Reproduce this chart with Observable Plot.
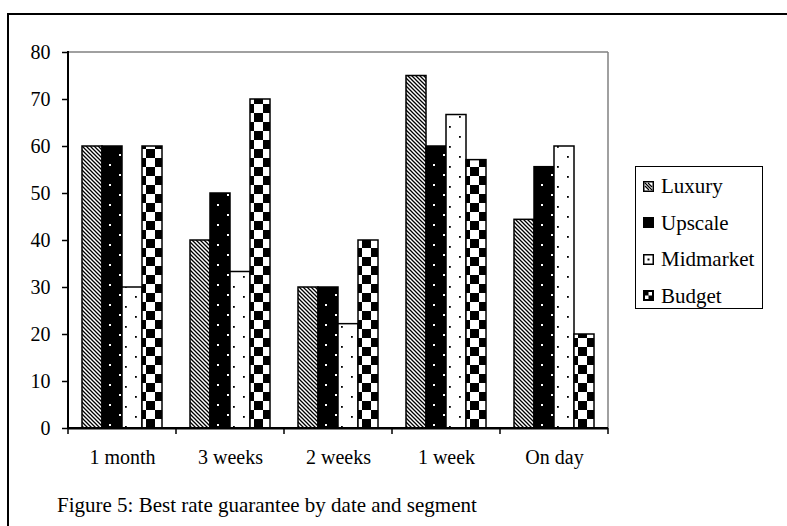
<!DOCTYPE html>
<html>
<head>
<meta charset="utf-8">
<script src="https://cdn.jsdelivr.net/npm/d3@7"></script>
<script src="https://cdn.jsdelivr.net/npm/@observablehq/plot@0.6"></script>
<style>
  html, body { margin: 0; padding: 0; background: #fff; }
  body { width: 787px; height: 526px; position: relative; overflow: hidden; font-family: "Liberation Serif", "Times New Roman", serif; }
  #frame { position: absolute; left: 7px; top: 13px; width: 800px; height: 540px; border-top: 2px solid #000; border-left: 2px solid #000; box-sizing: border-box; }
  #chart { position: absolute; left: 0; top: 0; }
  #legend { position: absolute; left: 635px; top: 166px; width: 128px; height: 143px; border: 1px solid #000; box-sizing: border-box; background: #fff; padding-top: 1px; }
  #legend .row { height: 36.5px; display: flex; align-items: center; font-size: 21px; line-height: 24px; color: #000; }
  #legend svg { margin-left: 7px; margin-right: 7px; flex: none; }
  #caption { position: absolute; left: 57px; top: 493px; font-size: 21px; line-height: 24px; color: #000; white-space: nowrap; }
</style>
</head>
<body>
<div id="frame"></div>
<div id="chart"></div>
<div id="legend"></div>
<div id="caption">Figure 5: Best rate guarantee by date and segment</div>
<script>
const dates = ["1 month", "3 weeks", "2 weeks", "1 week", "On day"];
const segments = ["Luxury", "Upscale", "Midmarket", "Budget"];
const luxury = [60, 40, 30, 75, 44.4];
const upscale = [60, 50, 30, 60, 55.6];
const midmarket = [30, 33.3, 22.2, 66.7, 60];
const budget = [60, 70, 40, 57.1, 20];
const yTicks = [0, 10, 20, 30, 40, 50, 60, 70, 80];
const patternIds = ["pLux", "pUp", "pMid", "pBud"];

(function () {
const seriesValues = [luxury, upscale, midmarket, budget];
const data = [];
dates.forEach((d, i) => segments.forEach((s, j) => data.push({date: d, segment: s, value: seriesValues[j][i]})));

const serif = "'Liberation Serif', 'Times New Roman', serif";

const plot = Plot.plot({
  width: 787,
  height: 470,
  marginLeft: 68,
  marginRight: 179,
  marginTop: 52,
  marginBottom: 42,
  style: {fontFamily: serif, fontSize: "20px", color: "#000", background: "transparent", overflow: "visible"},
  fx: {domain: dates, padding: 0, label: null, axis: null},
  x: {domain: segments, paddingInner: 0, paddingOuter: 0.7, axis: null},
  y: {domain: [0, 80], label: null, axis: null},
  color: {domain: segments, range: patternIds.map(id => `url(#${id})`)},
  marks: [
    Plot.barY(data, {fx: "date", x: "segment", y: "value", fill: "segment", stroke: "#000", strokeWidth: 1.5}),
    Plot.ruleY([0], {stroke: "#000", strokeWidth: 2}),
    Plot.axisY({ticks: yTicks, tickSize: 6, tickPadding: 12, label: null, fontSize: 20, stroke: "#000", strokeWidth: 1.5}),
    Plot.axisFx({anchor: "bottom", tickSize: 0, tickPadding: 21, label: null, fontSize: 20})
  ]
});
document.getElementById("chart").appendChild(plot);

const svg = d3.select(plot);
const defs = svg.insert("defs", ":first-child");
const pl = defs.append("pattern").attr("id", "pLux").attr("patternUnits", "userSpaceOnUse").attr("width", 4).attr("height", 4);
pl.append("rect").attr("width", 4).attr("height", 4).attr("fill", "#fff");
pl.append("path").attr("d", "M-1,-1L5,5M-1,3L1,5M3,-1L5,1").attr("stroke", "#000").attr("stroke-width", 1.3);
const pu = defs.append("pattern").attr("id", "pUp").attr("patternUnits", "userSpaceOnUse").attr("width", 20).attr("height", 20);
pu.append("rect").attr("width", 20).attr("height", 20).attr("fill", "#000");
pu.append("rect").attr("x", 9).attr("y", 4).attr("width", 2).attr("height", 2).attr("fill", "#fff");
pu.append("rect").attr("x", 19).attr("y", 14).attr("width", 2).attr("height", 2).attr("fill", "#fff");
pu.append("rect").attr("x", -1).attr("y", 14).attr("width", 2).attr("height", 2).attr("fill", "#fff");
const pm = defs.append("pattern").attr("id", "pMid").attr("patternUnits", "userSpaceOnUse").attr("width", 20).attr("height", 20);
pm.append("rect").attr("width", 20).attr("height", 20).attr("fill", "#fff");
pm.append("rect").attr("x", 5).attr("y", 6).attr("width", 1.8).attr("height", 1.8).attr("fill", "#000");
pm.append("rect").attr("x", 15).attr("y", 16).attr("width", 1.8).attr("height", 1.8).attr("fill", "#000");
const pb = defs.append("pattern").attr("id", "pBud").attr("patternUnits", "userSpaceOnUse").attr("width", 18).attr("height", 18).attr("x", 2).attr("y", 5);
pb.append("rect").attr("width", 18).attr("height", 18).attr("fill", "#fff");
pb.append("rect").attr("width", 9).attr("height", 9).attr("fill", "#000");
pb.append("rect").attr("x", 9).attr("y", 9).attr("width", 9).attr("height", 9).attr("fill", "#000");

const fx = plot.scale("fx");
const ys = plot.scale("y");
const x0 = fx.apply(dates[0]);
const x1 = fx.apply(dates[dates.length - 1]) + fx.bandwidth;
const yTop = ys.apply(80), yBottom = ys.apply(0);
const deco = svg.append("g");
deco.append("line").attr("x1", x0).attr("x2", x1).attr("y1", yTop).attr("y2", yTop).attr("stroke", "#808080").attr("stroke-width", 1.5);
deco.append("line").attr("x1", x1).attr("x2", x1).attr("y1", yTop).attr("y2", yBottom).attr("stroke", "#808080").attr("stroke-width", 1.5);
deco.append("line").attr("x1", x0).attr("x2", x0).attr("y1", yTop - 1).attr("y2", yBottom + 1).attr("stroke", "#000").attr("stroke-width", 2);
deco.append("line").attr("x1", x0).attr("x2", x1).attr("y1", yBottom).attr("y2", yBottom).attr("stroke", "#000").attr("stroke-width", 2);
const bounds = dates.map(d => fx.apply(d)).concat([x1]);
deco.selectAll(".bt").data(bounds).join("line").attr("x1", d => d).attr("x2", d => d).attr("y1", yBottom).attr("y2", yBottom + 6).attr("stroke", "#000").attr("stroke-width", 1.5);

const legend = d3.select("#legend");
segments.forEach((s, j) => {
  const row = legend.append("div").attr("class", "row");
  const sw = row.append("svg").attr("width", 11).attr("height", 11);
  if (j === 0) {
    sw.append("rect").attr("x", 0.75).attr("y", 0.75).attr("width", 9.5).attr("height", 9.5).attr("fill", "#fff").attr("stroke", "#000").attr("stroke-width", 1.5);
    sw.append("path").attr("d", "M2,2L9,9M2,5L6,9M5,2L9,6").attr("stroke", "#000").attr("stroke-width", 1.2);
  } else if (j === 1) {
    sw.append("rect").attr("x", 0.75).attr("y", 0.75).attr("width", 9.5).attr("height", 9.5).attr("fill", "#000").attr("stroke", "#000").attr("stroke-width", 1.5);
  } else if (j === 2) {
    sw.append("rect").attr("x", 0.75).attr("y", 0.75).attr("width", 9.5).attr("height", 9.5).attr("fill", "#fff").attr("stroke", "#000").attr("stroke-width", 1.5);
    sw.append("rect").attr("x", 4.5).attr("y", 4.5).attr("width", 2).attr("height", 2).attr("fill", "#000");
  } else {
    sw.append("rect").attr("x", 0.75).attr("y", 0.75).attr("width", 9.5).attr("height", 9.5).attr("fill", "#000").attr("stroke", "#000").attr("stroke-width", 1.5);
    sw.append("rect").attr("x", 5.5).attr("y", 2).attr("width", 3.5).attr("height", 3.5).attr("fill", "#fff");
    sw.append("rect").attr("x", 2).attr("y", 5.5).attr("width", 3.5).attr("height", 3.5).attr("fill", "#fff");
  }
  row.append("span").text(s);
});
})();
</script>
</body>
</html>
